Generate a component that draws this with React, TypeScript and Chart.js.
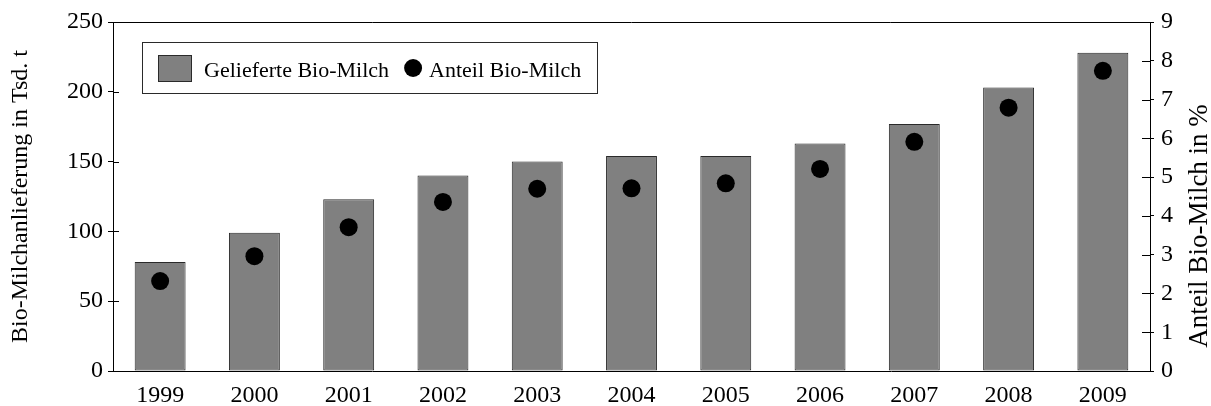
import React, { useEffect, useRef } from "react";
import { Chart, registerables } from "chart.js";

Chart.register(...registerables);

const years = ["1999", "2000", "2001", "2002", "2003", "2004", "2005", "2006", "2007", "2008", "2009"];
const deliveredMilk = [78, 99, 123, 140, 150, 154, 154, 163, 177, 203, 228];
const organicShare = [2.32, 2.96, 3.71, 4.36, 4.7, 4.71, 4.84, 5.21, 5.91, 6.79, 7.74];
const leftRange = [0, 250];
const leftStep = 50;
const rightRange = [0, 9];
const rightStep = 1;
const barLabel = "Gelieferte Bio-Milch";
const shareLabel = "Anteil Bio-Milch";
const leftTitle = "Bio-Milchanlieferung in Tsd. t";
const rightTitle = "Anteil Bio-Milch in %";

const FONT = "'Liberation Serif', 'Times New Roman', serif";
const BAR_FILL = "#808080";
const BAR_EDGE = "#2a2a2a";

const framePlugin = {
  id: "frame",
  afterDraw(chart: any) {
    const { ctx, chartArea } = chart;
    const { left, right, top } = chartArea;
    ctx.save();
    ctx.strokeStyle = "#000";
    ctx.lineWidth = 1;
    ctx.beginPath();
    ctx.moveTo(left, top + 0.5);
    ctx.lineTo(right, top + 0.5);
    ctx.stroke();
    // inward tick parts
    const ys = chart.scales.y;
    const yr = chart.scales.y1;
    ctx.beginPath();
    ys.ticks.forEach((t: any) => {
      const p = Math.round(ys.getPixelForValue(t.value)) + 0.5;
      ctx.moveTo(left, p);
      ctx.lineTo(left + 6, p);
    });
    yr.ticks.forEach((t: any) => {
      const p = Math.round(yr.getPixelForValue(t.value)) + 0.5;
      ctx.moveTo(right, p);
      ctx.lineTo(right - 8, p);
    });
    ctx.stroke();

    // right title, reading bottom to top
    ctx.fillStyle = "#000";
    ctx.font = `27px ${FONT}`;
    ctx.textAlign = "center";
    ctx.textBaseline = "alphabetic";
    ctx.translate(1207, 226);
    ctx.rotate(-Math.PI / 2);
    ctx.fillText(rightTitle, 0, 0);
    ctx.restore();

    // legend
    ctx.save();
    const bx = 142;
    const by = 42;
    const bw = 455;
    const bh = 51;
    ctx.fillStyle = "#fff";
    ctx.fillRect(bx, by, bw, bh);
    ctx.strokeStyle = BAR_EDGE;
    ctx.lineWidth = 1;
    ctx.strokeRect(bx + 0.5, by + 0.5, bw, bh);
    ctx.fillStyle = BAR_FILL;
    ctx.fillRect(bx + 16, by + 13, 34, 27);
    ctx.strokeRect(bx + 16.5, by + 13.5, 33, 26);
    ctx.font = `22px ${FONT}`;
    ctx.fillStyle = "#000";
    ctx.textAlign = "left";
    ctx.textBaseline = "alphabetic";
    const ds = chart.data.datasets;
    const t1 = ds[1].label;
    ctx.fillText(t1, bx + 62, by + 35);
    const w1 = ctx.measureText(t1).width;
    const cx = bx + 62 + w1 + 24;
    ctx.beginPath();
    ctx.arc(cx, by + 26, 9, 0, Math.PI * 2);
    ctx.fill();
    ctx.fillText(ds[0].label, cx + 16, by + 35);
    ctx.restore();
  },
};

export default function App() {
  const ref = useRef<HTMLCanvasElement | null>(null);
  useEffect(() => {
    if (!ref.current) return;
    const chart = new Chart(ref.current, {
      type: "bar",
      data: {
        labels: years,
        datasets: [
          {
            type: "line",
            label: shareLabel,
            data: organicShare,
            yAxisID: "y1",
            showLine: false,
            pointRadius: 9,
            pointHoverRadius: 9,
            pointBackgroundColor: "#000",
            pointBorderWidth: 0,
            borderColor: "#000",
            order: 0,
          } as any,
          {
            type: "bar",
            label: barLabel,
            data: deliveredMilk,
            yAxisID: "y",
            backgroundColor: BAR_FILL,
            borderColor: BAR_EDGE,
            borderWidth: 1,
            borderSkipped: false,
            barPercentage: 0.54,
            categoryPercentage: 1,
            order: 1,
          },
        ],
      },
      options: {
        animation: false,
        responsive: false,
        maintainAspectRatio: false,
        layout: { padding: { top: 22, left: 0, right: 0, bottom: 0 } },
        plugins: { legend: { display: false }, tooltip: { enabled: false } },
        font: { family: FONT },
        scales: {
          x: {
            type: "category",
            offset: true,
            grid: { display: false, drawTicks: false },
            border: { display: true, color: "#000", width: 1 },
            ticks: { color: "#000", font: { family: FONT, size: 24 }, padding: 10, maxRotation: 0 },
            afterFit: (s: any) => {
              s.height = 35;
            },
          },
          y: {
            position: "left",
            min: leftRange[0],
            max: leftRange[1],
            grid: { drawOnChartArea: false, color: "#000", tickLength: 5 },
            border: { display: true, color: "#000", width: 1 },
            ticks: { stepSize: leftStep, color: "#000", font: { family: FONT, size: 24 }, padding: 5 },
            title: {
              display: true,
              text: leftTitle,
              color: "#000",
              font: { family: FONT, size: 24 },
              padding: { top: 6, bottom: 0 },
            },
            afterFit: (s: any) => {
              s.width = 113;
            },
          },
          y1: {
            position: "right",
            min: rightRange[0],
            max: rightRange[1],
            grid: { drawOnChartArea: false, color: "#000", tickLength: 4 },
            border: { display: true, color: "#000", width: 1 },
            ticks: { stepSize: rightStep, color: "#000", font: { family: FONT, size: 24 }, padding: 7 },
            afterFit: (s: any) => {
              s.width = 61;
            },
          },
        },
      } as any,
      plugins: [framePlugin],
    });
    return () => chart.destroy();
  }, []);
  return (
    <div style={{ position: "fixed", left: 0, top: 0, width: 1211, height: 406, background: "#fff" }}>
      <canvas ref={ref} width={1211} height={406} style={{ width: 1211, height: 406, display: "block" }} />
    </div>
  );
}
